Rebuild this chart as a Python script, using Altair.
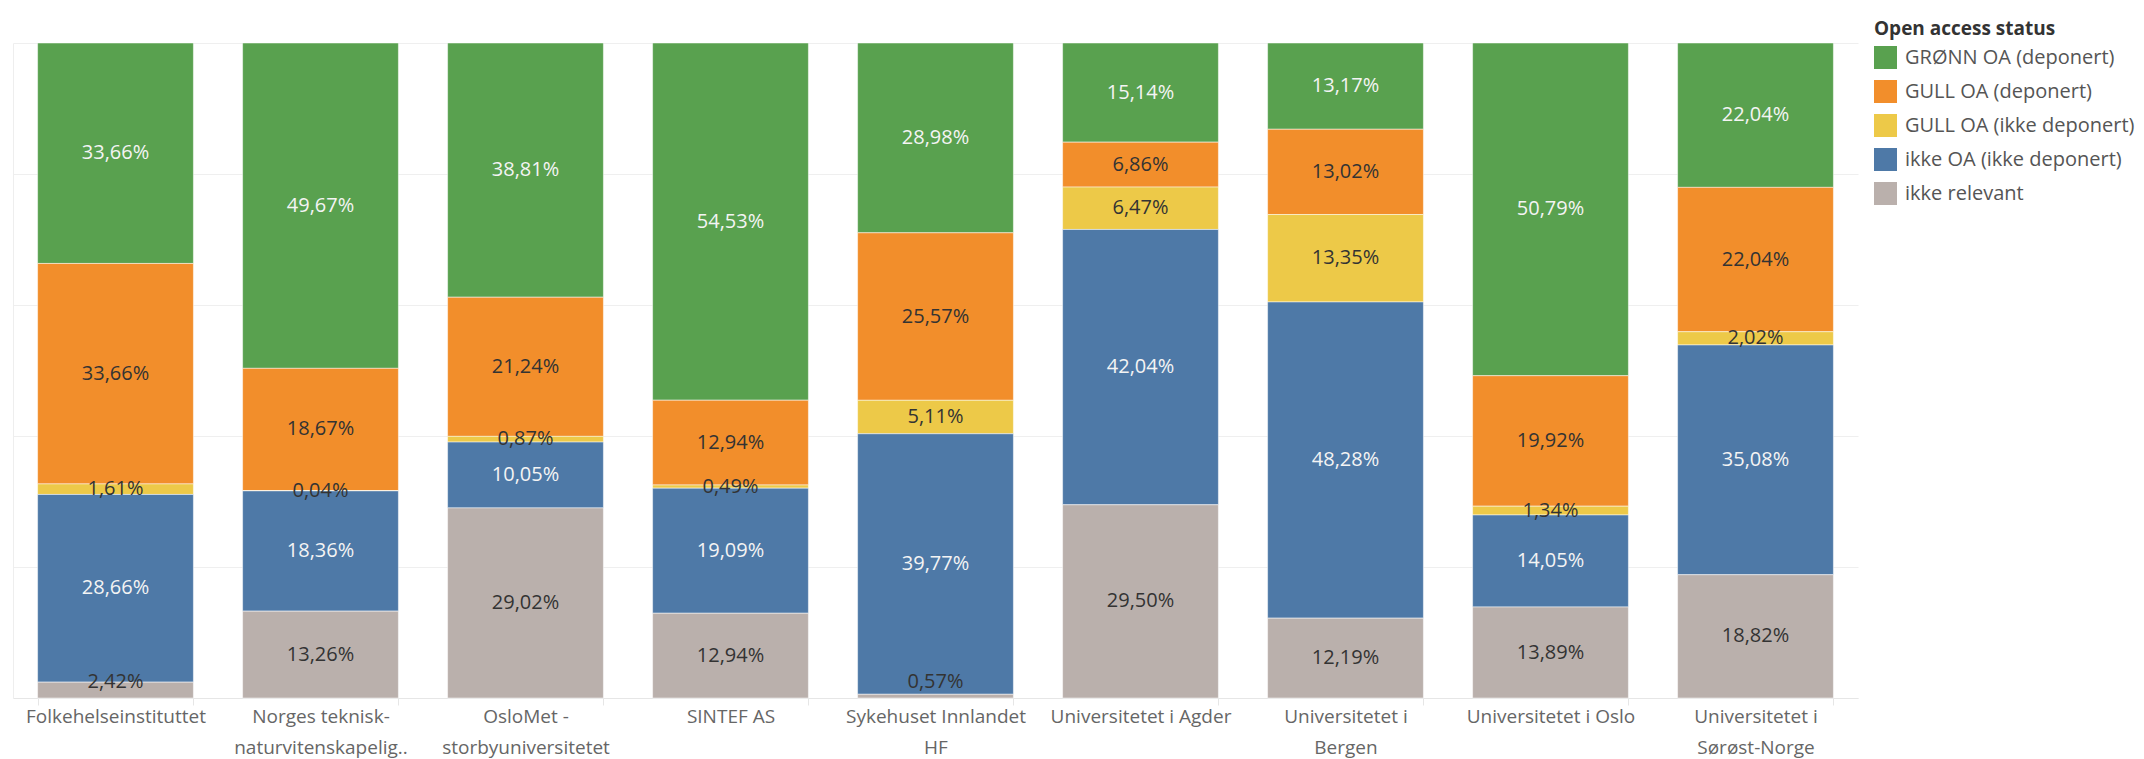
import altair as alt
import pandas as pd

institutions = [
    "Folkehelseinstituttet",
    "Norges teknisk-\nnaturvitenskapelig..",
    "OsloMet -\nstorbyuniversitetet",
    "SINTEF AS",
    "Sykehuset Innlandet\nHF",
    "Universitetet i Agder",
    "Universitetet i\nBergen",
    "Universitetet i Oslo",
    "Universitetet i\nSørøst-Norge",
]
statuses = [
    "GRØNN OA (deponert)",
    "GULL OA (deponert)",
    "GULL OA (ikke deponert)",
    "ikke OA (ikke deponert)",
    "ikke relevant",
]
colors = ["#59A14F", "#F28E2B", "#EDC948", "#4E79A7", "#BAB0AC"]
label_colors = ["#f4f4f4", "#333333", "#333333", "#f4f4f4", "#333333"]

gronn = [33.66, 49.67, 38.81, 54.53, 28.98, 15.14, 13.17, 50.79, 22.04]
gull_dep = [33.66, 18.67, 21.24, 12.94, 25.57, 6.86, 13.02, 19.92, 22.04]
gull_ikke = [1.61, 0.04, 0.87, 0.49, 5.11, 6.47, 13.35, 1.34, 2.02]
ikke_oa = [28.66, 18.36, 10.05, 19.09, 39.77, 42.04, 48.28, 14.05, 35.08]
ikke_rel = [2.42, 13.26, 29.02, 12.94, 0.57, 29.50, 12.19, 13.89, 18.82]

series = [gronn, gull_dep, gull_ikke, ikke_oa, ikke_rel]

rows = []
for si, (status, vals) in enumerate(zip(statuses, series)):
    for inst, v in zip(institutions, vals):
        rows.append({
            "inst": inst,
            "status": status,
            "value": v,
            "ord": len(statuses) - 1 - si,
            "label": f"{v:.2f}".replace(".", ",") + "%",
            "tcolor": label_colors[si],
        })
df = pd.DataFrame(rows)

FONT = "Open Sans"

base = alt.Chart(df).transform_stack(
    stack="value",
    groupby=["inst"],
    as_=["y0", "y1"],
    sort=[alt.SortField("ord", order="ascending")],
    offset="normalize",
).transform_calculate(mid="max((datum.y0 + datum.y1) / 2, 0.025)")

xenc = alt.X(
    "inst:N",
    sort=institutions,
    scale=alt.Scale(paddingInner=0.24, paddingOuter=0.12),
    axis=alt.Axis(
        title=None,
        labelAngle=0,
        labelExpr="split(datum.label, '\\n')",
        labelFont=FONT,
        labelFontSize=19,
        labelColor="#666666",
        labelLineHeight=31,
        labelLimit=0,
        labelPadding=2,
        domainColor="#e6e6e6",
        tickColor="#e6e6e6",
        tickBand="extent",
        tickSize=7,
    ),
)

bars = base.mark_bar(stroke="white", strokeWidth=0.5).encode(
    x=xenc,
    y=alt.Y(
        "y0:Q",
        scale=alt.Scale(domain=[0, 1], nice=False),
        axis=alt.Axis(
            title=None,
            labels=False,
            ticks=False,
            domain=True,
            domainColor="#eeeeee",
            grid=True,
            gridColor="#efefef",
            values=[0, 0.2, 0.4, 0.6, 0.8, 1.0],
        ),
    ),
    y2="y1:Q",
    color=alt.Color(
        "status:N",
        scale=alt.Scale(domain=statuses, range=colors),
        legend=alt.Legend(
            title="Open access status",
            orient="none",
            legendX=1861,
            legendY=-23,
            titleFont=FONT,
            titleFontSize=19,
            titleFontWeight="bold",
            titleColor="#333333",
            titlePadding=7,
            titleLimit=0,
            labelFont=FONT,
            labelFontSize=20,
            labelColor="#555555",
            labelLimit=0,
            labelOffset=8,
            symbolType="square",
            symbolSize=529,
            symbolStrokeWidth=0,
            rowPadding=11,
            padding=0,
        ),
    ),
)

texts = base.mark_text(font=FONT, fontSize=20, baseline="middle", align="center").encode(
    x=alt.X("inst:N", sort=institutions),
    y=alt.Y("mid:Q"),
    text="label:N",
    color=alt.Color("tcolor:N", scale=None),
)

chart = (
    alt.layer(bars, texts)
    .properties(
        width=1845,
        height=655,
        autosize=alt.AutoSizeParams(type="none"),
        padding={"left": 5, "top": 35, "right": 278, "bottom": 62},
    )
    .configure_view(strokeWidth=0)
)

chart.save("out.html", embed_options={"renderer": "svg", "actions": False})
